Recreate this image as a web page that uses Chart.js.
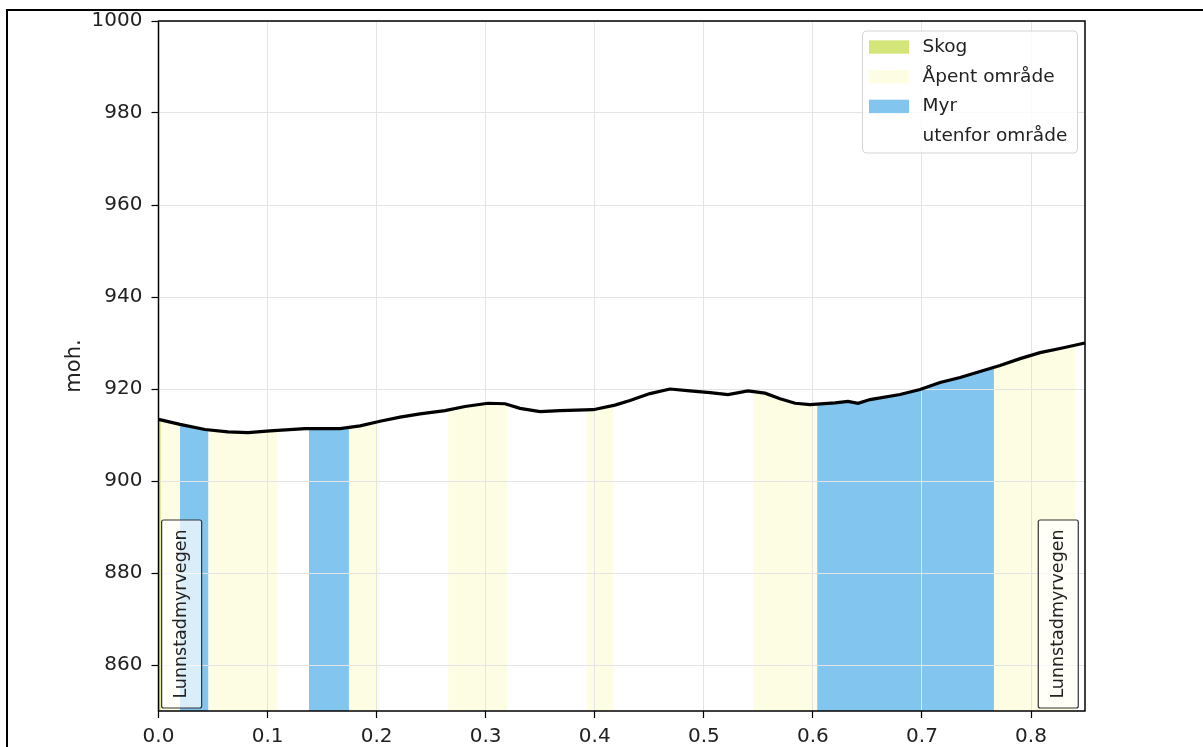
<!DOCTYPE html>
<html>
<head>
<meta charset="utf-8">
<script src="https://cdn.jsdelivr.net/npm/chart.js@4/dist/chart.umd.min.js"></script>
<style>
  html, body { margin: 0; padding: 0; background: #fff; }
  canvas { display: block; }
</style>
</head>
<body>
<canvas id="c" width="1203" height="747"></canvas>
<script>
// ---- Data ----
const distance = [0, 0.0197, 0.0426, 0.0637, 0.0821, 0.1022, 0.1343, 0.1664, 0.1848, 0.2031,
  0.2215, 0.2398, 0.2627, 0.2810, 0.3021, 0.3177, 0.3315, 0.3498, 0.3682, 0.3985,
  0.4185, 0.4323, 0.4506, 0.4690, 0.4873, 0.5057, 0.5222, 0.5405, 0.5561, 0.5699,
  0.5837, 0.5974, 0.6203, 0.6322, 0.6414, 0.6524, 0.6799, 0.6983, 0.7166, 0.7350,
  0.7533, 0.7716, 0.7900, 0.8083, 0.8266, 0.8495];
const elevation = [913.4, 912.3, 911.2, 910.7, 910.5, 910.9, 911.4, 911.4, 912.0, 913.0,
  913.9, 914.6, 915.3, 916.2, 916.9, 916.8, 915.8, 915.1, 915.3, 915.5,
  916.5, 917.5, 919.0, 920.0, 919.6, 919.2, 918.8, 919.6, 919.1, 917.9,
  916.9, 916.6, 917.0, 917.3, 916.9, 917.7, 918.8, 919.9, 921.4, 922.5,
  923.8, 925.1, 926.6, 927.9, 928.8, 930.0];

// land-cover bands along the profile
const bandStart = [0.0000, 0.0020, 0.0197, 0.0457, 0.1091, 0.1380, 0.1746, 0.2031, 0.2657, 0.3198, 0.3926, 0.4170, 0.5454, 0.6040, 0.7660, 0.8406];
const bandEnd   = [0.0020, 0.0197, 0.0457, 0.1091, 0.1380, 0.1746, 0.2031, 0.2657, 0.3198, 0.3926, 0.4170, 0.5454, 0.6040, 0.7660, 0.8406, 0.8495];
const bandType  = ['Skog', 'Åpent område', 'Myr', 'Åpent område', 'utenfor område', 'Myr', 'Åpent område', 'utenfor område',
                   'Åpent område', 'utenfor område', 'Åpent område', 'utenfor område', 'Åpent område', 'Myr', 'Åpent område', 'utenfor område'];

const legendLabels = ['Skog', 'Åpent område', 'Myr', 'utenfor område'];
const legendColors = ['#d4e67a', '#fdfde4', '#82c6ef', '#ffffff'];

const roadLabels = ['Lunnstadmyrvegen', 'Lunnstadmyrvegen'];
const roadLabelX = [0.0212, 0.8250];

const xTicks = [0.0, 0.1, 0.2, 0.3, 0.4, 0.5, 0.6, 0.7, 0.8];
const yTicks = [860, 880, 900, 920, 940, 960, 980, 1000];

const FONT = 'DejaVu Sans';
const colorOf = t => legendColors[legendLabels.indexOf(t)];

// ---- Plugins ----
const bandsPlugin = {
  id: 'bands',
  beforeDraw(chart) {
    const ctx = chart.ctx, xs = chart.scales.x, area = chart.chartArea;
    const pts = chart.getDatasetMeta(0).data;
    if (!pts.length) return;
    for (let i = 0; i < bandType.length; i++) {
      const x0 = xs.getPixelForValue(bandStart[i]);
      const x1 = xs.getPixelForValue(bandEnd[i]);
      ctx.save();
      ctx.beginPath();
      ctx.rect(x0, area.top, x1 - x0 + 0.3, area.bottom - area.top);
      ctx.clip();
      ctx.beginPath();
      ctx.moveTo(pts[0].x, area.bottom);
      pts.forEach(p => ctx.lineTo(p.x, p.y));
      ctx.lineTo(pts[pts.length - 1].x, area.bottom);
      ctx.closePath();
      ctx.fillStyle = colorOf(bandType[i]);
      ctx.fill();
      ctx.restore();
    }
  }
};

function roundRect(ctx, x, y, w, h, r) {
  ctx.beginPath();
  ctx.moveTo(x + r, y);
  ctx.lineTo(x + w - r, y);
  ctx.quadraticCurveTo(x + w, y, x + w, y + r);
  ctx.lineTo(x + w, y + h - r);
  ctx.quadraticCurveTo(x + w, y + h, x + w - r, y + h);
  ctx.lineTo(x + r, y + h);
  ctx.quadraticCurveTo(x, y + h, x, y + h - r);
  ctx.lineTo(x, y + r);
  ctx.quadraticCurveTo(x, y, x + r, y);
  ctx.closePath();
}

const overlayPlugin = {
  id: 'overlay',
  afterDraw(chart) {
    const ctx = chart.ctx, xs = chart.scales.x, area = chart.chartArea;
    // road labels
    ctx.save();
    ctx.font = '17.5px "' + FONT + '"';
    roadLabels.forEach((txt, i) => {
      const cx = xs.getPixelForValue(roadLabelX[i]);
      const w = 40, h = 188;
      const bx = cx - w / 2, by = area.bottom - 3 - h;
      roundRect(ctx, bx, by, w, h, 2);
      ctx.fillStyle = 'rgba(255,255,255,0.7)';
      ctx.fill();
      ctx.lineWidth = 1.2;
      ctx.strokeStyle = '#333';
      ctx.stroke();
      ctx.save();
      ctx.translate(cx, by + h / 2);
      ctx.rotate(-Math.PI / 2);
      ctx.fillStyle = '#222';
      ctx.textAlign = 'center';
      ctx.textBaseline = 'middle';
      ctx.fillText(txt, 0, 0);
      ctx.restore();
    });
    ctx.restore();

    // spines
    ctx.save();
    ctx.strokeStyle = '#000';
    ctx.lineWidth = 1.5;
    ctx.strokeRect(area.left, area.top, area.right - area.left, area.bottom - area.top);
    ctx.restore();

    // legend
    ctx.save();
    const lw = 215, lh = 122;
    const lx = area.right - 7.5 - lw, ly = area.top + 10;
    roundRect(ctx, lx, ly, lw, lh, 4);
    ctx.fillStyle = 'rgba(255,255,255,0.8)';
    ctx.fill();
    ctx.strokeStyle = '#d4d4d4';
    ctx.lineWidth = 1;
    ctx.stroke();
    ctx.font = '18.5px "' + FONT + '"';
    ctx.textBaseline = 'middle';
    ctx.textAlign = 'left';
    legendLabels.forEach((lab, i) => {
      const cy = ly + 16 + i * 29.7;
      ctx.fillStyle = legendColors[i];
      ctx.fillRect(lx + 6.5, cy - 6.7, 40, 13.4);
      ctx.fillStyle = '#222';
      ctx.fillText(lab, lx + 60, cy);
    });
    ctx.restore();

    // outer frame (figure border)
    ctx.save();
    ctx.strokeStyle = '#000';
    ctx.lineWidth = 2;
    ctx.beginPath();
    ctx.moveTo(7, 760);
    ctx.lineTo(7, 10);
    ctx.lineTo(1210, 10);
    ctx.stroke();
    ctx.restore();
  }
};

// ---- Chart ----
new Chart(document.getElementById('c'), {
  type: 'line',
  data: {
    datasets: [{
      data: distance.map((d, i) => ({ x: d, y: elevation[i] })),
      borderColor: '#000',
      borderWidth: 3.2,
      pointRadius: 0,
      fill: false,
      tension: 0,
      clip: false
    }]
  },
  options: {
    responsive: false,
    animation: false,
    events: [],
    layout: { padding: { left: 62, right: 118, top: 20, bottom: 0 } },
    plugins: { legend: { display: false }, tooltip: { enabled: false } },
    scales: {
      x: {
        type: 'linear',
        min: 0,
        max: 0.8495,
        afterBuildTicks: s => { s.ticks = xTicks.map(v => ({ value: v })); },
        afterFit: s => { s.height = 36; },
        ticks: {
          callback: v => Number(v).toFixed(1),
          font: { size: 20, family: FONT },
          color: '#222',
          padding: 7,
          maxRotation: 0,
          autoSkip: false
        },
        grid: { color: '#e4e4e4', lineWidth: 1, tickColor: '#000', tickLength: 7, tickWidth: 1.2 },
        border: { display: false }
      },
      y: {
        min: 850,
        max: 1000,
        afterBuildTicks: s => { s.ticks = yTicks.map(v => ({ value: v })); },
        afterFit: s => { s.width = 96.5; },
        ticks: {
          callback: v => String(v),
          font: { size: 20, family: FONT },
          color: '#222',
          padding: 9,
          autoSkip: false
        },
        title: {
          display: true,
          text: 'moh.',
          font: { size: 21, family: FONT },
          color: '#222',
          padding: 0
        },
        grid: { color: '#e4e4e4', lineWidth: 1, tickColor: '#000', tickLength: 7, tickWidth: 1.2 },
        border: { display: false }
      }
    }
  },
  plugins: [bandsPlugin, overlayPlugin]
});
</script>
</body>
</html>
